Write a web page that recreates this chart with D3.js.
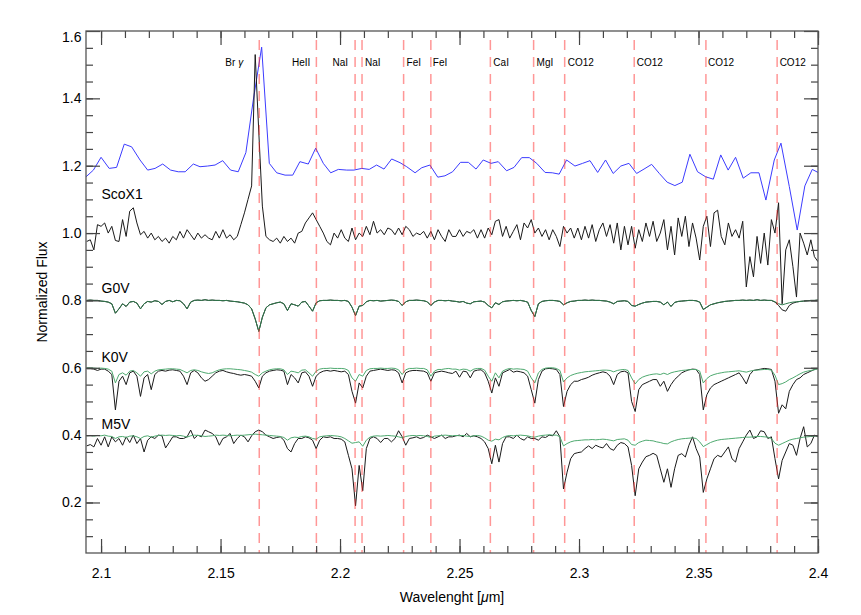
<!DOCTYPE html>
<html>
<head>
<meta charset="utf-8">
<script src="https://cdn.jsdelivr.net/npm/d3@7"></script>
<style>
  body { margin: 0; background: #fff; }
  text { font-family: "Liberation Sans", Arial, Helvetica, sans-serif; }
</style>
</head>
<body>
<div id="spec_chart"></div>
<script>

// spectra are sampled on a regular wavelength grid (micron)
var waveStart = 2.094;
var waveStep = 0.0015;

// low resolution ScoX1 spectrum (blue)
var blueWave = [2.0937, 2.0968, 2.1000, 2.1034, 2.1065, 2.1097, 2.1128, 2.1163, 2.1195, 2.1226,
  2.1258, 2.1291, 2.1323, 2.1352, 2.1386, 2.1414, 2.1446, 2.1477, 2.1509, 2.1542,
  2.1574, 2.1606, 2.1637, 2.1672, 2.1704, 2.1735, 2.1770, 2.1802, 2.1832, 2.1867,
  2.1898, 2.1930, 2.1961, 2.1993, 2.2028, 2.2058, 2.2091, 2.2122, 2.2153, 2.2184,
  2.2216, 2.2251, 2.2279, 2.2314, 2.2342, 2.2376, 2.2409, 2.2439, 2.2471, 2.2504,
  2.2537, 2.2569, 2.2599, 2.2632, 2.2662, 2.2697, 2.2728, 2.2760, 2.2792, 2.2823,
  2.2858, 2.2888, 2.2917, 2.2948, 2.2983, 2.3015, 2.3046, 2.3078, 2.3111, 2.3143,
  2.3175, 2.3209, 2.3241, 2.3272, 2.3304, 2.3336, 2.3369, 2.3401, 2.3432, 2.3464,
  2.3496, 2.3530, 2.3562, 2.3593, 2.3624, 2.3655, 2.3687, 2.3719, 2.3753, 2.3782,
  2.3817, 2.3845, 2.3880, 2.3913, 2.3945, 2.3976, 2.4000];
var blueFlux = [1.167, 1.187, 1.225, 1.192, 1.195, 1.264, 1.256, 1.217, 1.187, 1.192,
  1.205, 1.187, 1.182, 1.182, 1.205, 1.197, 1.199, 1.202, 1.215, 1.187,
  1.182, 1.239, 1.395, 1.552, 1.207, 1.179, 1.172, 1.172, 1.212, 1.205,
  1.252, 1.207, 1.179, 1.189, 1.187, 1.187, 1.192, 1.189, 1.202, 1.190,
  1.220, 1.209, 1.197, 1.179, 1.194, 1.202, 1.166, 1.170, 1.182, 1.210,
  1.210, 1.190, 1.217, 1.207, 1.212, 1.185, 1.195, 1.224, 1.224, 1.207,
  1.180, 1.179, 1.175, 1.217, 1.199, 1.207, 1.215, 1.180, 1.217, 1.177,
  1.199, 1.207, 1.177, 1.190, 1.204, 1.177, 1.151, 1.141, 1.151, 1.234,
  1.182, 1.167, 1.160, 1.232, 1.187, 1.225, 1.163, 1.179, 1.179, 1.098,
  1.217, 1.267, 1.138, 1.009, 1.140, 1.189, 1.180];

var scoFlux = [0.975, 0.98, 0.95, 1.025, 1.02, 1.03, 1.0, 1.02, 0.978, 0.975,
  1.04, 0.99, 1.065, 1.075, 1.03, 0.995, 1.005, 0.985, 1.0, 0.98,
  0.99, 0.975, 0.985, 0.97, 0.99, 0.98, 1.005, 0.985, 1.01, 0.995,
  0.98, 1.0, 0.985, 0.995, 0.985, 0.98, 1.005, 0.985, 1.01, 0.985,
  0.995, 0.98, 0.99, 1.025, 1.06, 1.10, 1.14, 1.53, 1.30, 1.08,
  0.99, 0.98, 0.975, 0.985, 0.97, 0.99, 0.975, 0.985, 0.97, 1.0,
  1.005, 1.03, 1.045, 1.06, 1.04, 1.02, 1.0, 0.975, 0.965, 1.0,
  0.985, 1.01, 0.985, 0.975, 1.015, 0.98, 1.0, 0.99, 1.02, 0.995,
  1.035, 1.0, 1.01, 0.995, 1.015, 1.01, 0.995, 1.015, 0.995, 1.02,
  1.01, 0.99, 1.0, 0.995, 1.005, 0.985, 1.005, 0.98, 1.01, 0.99,
  0.975, 1.01, 0.99, 0.99, 1.01, 0.99, 1.005, 1.0, 1.01, 0.985,
  1.01, 0.985, 1.015, 0.995, 1.035, 1.04, 0.99, 1.02, 0.985, 1.005,
  1.025, 0.98, 1.03, 1.015, 1.04, 1.0, 1.015, 0.99, 1.01, 0.98,
  1.01, 0.99, 0.96, 1.02, 1.0, 1.015, 0.985, 1.015, 0.98, 1.02,
  0.985, 1.025, 0.975, 1.01, 1.03, 0.99, 1.025, 0.97, 1.03, 0.95,
  1.02, 0.965, 1.02, 0.955, 1.01, 0.975, 1.03, 0.99, 1.035, 0.975,
  1.0, 1.04, 0.95, 1.02, 0.935, 1.045, 0.99, 1.05, 0.96, 1.03,
  0.985, 0.92, 1.02, 1.05, 0.96, 1.06, 1.068, 0.99, 0.965, 1.03,
  0.99, 1.01, 0.985, 1.035, 0.84, 0.93, 0.87, 0.99, 0.91, 1.0,
  0.905, 1.04, 1.0, 1.09, 0.79, 0.95, 0.98, 0.9, 0.81, 1.0,
  0.97, 0.935, 0.98, 0.93, 0.915];

var g0vFlux = [0.800, 0.801, 0.800, 0.800, 0.798, 0.797, 0.795, 0.790, 0.762, 0.775,
  0.790, 0.782, 0.795, 0.797, 0.792, 0.775, 0.790, 0.797, 0.795, 0.799,
  0.797, 0.788, 0.797, 0.800, 0.796, 0.800, 0.799, 0.790, 0.775, 0.795,
  0.800, 0.801, 0.800, 0.802, 0.800, 0.801, 0.800, 0.800, 0.799, 0.800,
  0.798, 0.797, 0.796, 0.794, 0.792, 0.787, 0.775, 0.745, 0.708, 0.750,
  0.778, 0.787, 0.790, 0.793, 0.795, 0.790, 0.770, 0.790, 0.787, 0.783,
  0.795, 0.797, 0.783, 0.768, 0.793, 0.799, 0.800, 0.800, 0.801, 0.800,
  0.800, 0.799, 0.800, 0.797, 0.780, 0.755, 0.783, 0.785, 0.796, 0.800,
  0.799, 0.800, 0.798, 0.799, 0.800, 0.801, 0.800, 0.797, 0.785, 0.796,
  0.800, 0.800, 0.801, 0.800, 0.799, 0.796, 0.785, 0.795, 0.800, 0.800,
  0.799, 0.800, 0.798, 0.797, 0.795, 0.797, 0.792, 0.790, 0.796, 0.797,
  0.798, 0.795, 0.785, 0.778, 0.793, 0.788, 0.796, 0.798, 0.799, 0.800,
  0.799, 0.800, 0.798, 0.795, 0.770, 0.752, 0.790, 0.797, 0.799, 0.800,
  0.800, 0.799, 0.797, 0.787, 0.793, 0.797, 0.798, 0.800, 0.800, 0.801,
  0.800, 0.801, 0.800, 0.800, 0.799, 0.798, 0.795, 0.790, 0.797, 0.798,
  0.799, 0.797, 0.785, 0.783, 0.788, 0.792, 0.795, 0.796, 0.797, 0.797,
  0.795, 0.787, 0.795, 0.782, 0.794, 0.797, 0.798, 0.799, 0.800, 0.800,
  0.799, 0.795, 0.773, 0.780, 0.787, 0.790, 0.793, 0.795, 0.797, 0.798,
  0.799, 0.800, 0.800, 0.801, 0.800, 0.801, 0.800, 0.802, 0.800, 0.801,
  0.800, 0.800, 0.795, 0.785, 0.772, 0.768, 0.785, 0.792, 0.795, 0.797,
  0.798, 0.799, 0.800, 0.800, 0.801];

var g0vModel = [0.800, 0.801, 0.800, 0.800, 0.798, 0.797, 0.795, 0.790, 0.762, 0.775,
  0.790, 0.782, 0.795, 0.797, 0.792, 0.775, 0.790, 0.797, 0.795, 0.799,
  0.797, 0.788, 0.797, 0.800, 0.796, 0.800, 0.799, 0.790, 0.775, 0.795,
  0.800, 0.801, 0.800, 0.802, 0.800, 0.801, 0.800, 0.800, 0.799, 0.800,
  0.798, 0.797, 0.796, 0.794, 0.792, 0.787, 0.775, 0.745, 0.708, 0.750,
  0.778, 0.787, 0.790, 0.793, 0.795, 0.790, 0.770, 0.790, 0.787, 0.783,
  0.795, 0.797, 0.783, 0.768, 0.793, 0.799, 0.800, 0.800, 0.801, 0.800,
  0.800, 0.799, 0.800, 0.797, 0.780, 0.755, 0.783, 0.785, 0.796, 0.800,
  0.799, 0.800, 0.798, 0.799, 0.800, 0.801, 0.800, 0.797, 0.785, 0.796,
  0.800, 0.800, 0.801, 0.800, 0.799, 0.796, 0.785, 0.795, 0.800, 0.800,
  0.799, 0.800, 0.798, 0.797, 0.795, 0.797, 0.792, 0.790, 0.796, 0.797,
  0.798, 0.795, 0.785, 0.778, 0.793, 0.788, 0.796, 0.798, 0.799, 0.800,
  0.799, 0.800, 0.798, 0.795, 0.770, 0.752, 0.790, 0.797, 0.799, 0.800,
  0.800, 0.799, 0.797, 0.787, 0.793, 0.797, 0.798, 0.800, 0.800, 0.801,
  0.800, 0.801, 0.800, 0.800, 0.799, 0.798, 0.795, 0.790, 0.797, 0.798,
  0.799, 0.797, 0.785, 0.783, 0.788, 0.792, 0.795, 0.796, 0.797, 0.797,
  0.795, 0.787, 0.795, 0.782, 0.794, 0.797, 0.798, 0.799, 0.800, 0.800,
  0.799, 0.795, 0.773, 0.780, 0.787, 0.790, 0.793, 0.795, 0.797, 0.798,
  0.799, 0.800, 0.800, 0.801, 0.800, 0.801, 0.800, 0.802, 0.800, 0.801,
  0.800, 0.800, 0.796, 0.790, 0.787, 0.790, 0.793, 0.795, 0.796, 0.797,
  0.798, 0.799, 0.800, 0.800, 0.801];

var k0vFlux = [0.597, 0.597, 0.596, 0.592, 0.596, 0.596, 0.590, 0.580, 0.475, 0.560,
  0.575, 0.550, 0.585, 0.590, 0.575, 0.515, 0.570, 0.580, 0.535, 0.580,
  0.590, 0.592, 0.590, 0.593, 0.594, 0.592, 0.590, 0.575, 0.550, 0.585,
  0.592, 0.585, 0.570, 0.560, 0.565, 0.575, 0.585, 0.590, 0.592, 0.588,
  0.585, 0.583, 0.580, 0.578, 0.580, 0.578, 0.575, 0.560, 0.540, 0.575,
  0.585, 0.590, 0.592, 0.594, 0.593, 0.590, 0.550, 0.580, 0.570, 0.555,
  0.585, 0.588, 0.575, 0.545, 0.575, 0.585, 0.590, 0.592, 0.590, 0.592,
  0.590, 0.588, 0.590, 0.580, 0.530, 0.495, 0.555, 0.540, 0.575, 0.590,
  0.592, 0.594, 0.596, 0.594, 0.592, 0.594, 0.593, 0.585, 0.555, 0.585,
  0.590, 0.592, 0.592, 0.591, 0.590, 0.585, 0.560, 0.585, 0.588, 0.590,
  0.588, 0.585, 0.583, 0.590, 0.572, 0.590, 0.588, 0.570, 0.590, 0.593,
  0.594, 0.585, 0.560, 0.525, 0.570, 0.545, 0.585, 0.590, 0.595, 0.587,
  0.590, 0.588, 0.585, 0.575, 0.535, 0.495, 0.565, 0.590, 0.597, 0.598,
  0.597, 0.595, 0.580, 0.485, 0.530, 0.550, 0.560, 0.560, 0.565, 0.568,
  0.572, 0.578, 0.582, 0.585, 0.588, 0.585, 0.575, 0.550, 0.580, 0.588,
  0.590, 0.585, 0.500, 0.470, 0.535, 0.550, 0.555, 0.560, 0.565, 0.565,
  0.545, 0.560, 0.530, 0.550, 0.565, 0.575, 0.585, 0.590, 0.594, 0.596,
  0.595, 0.580, 0.475, 0.520, 0.540, 0.550, 0.555, 0.560, 0.565, 0.570,
  0.575, 0.580, 0.585, 0.570, 0.552, 0.580, 0.592, 0.594, 0.596, 0.598,
  0.597, 0.595, 0.560, 0.465, 0.490, 0.478, 0.530, 0.550, 0.565, 0.570,
  0.580, 0.585, 0.590, 0.595, 0.598];

var k0vModel = [0.600, 0.600, 0.599, 0.598, 0.599, 0.598, 0.596, 0.590, 0.555, 0.580,
  0.585, 0.578, 0.590, 0.592, 0.585, 0.575, 0.588, 0.590, 0.582, 0.590,
  0.594, 0.595, 0.596, 0.597, 0.597, 0.596, 0.595, 0.590, 0.585, 0.592,
  0.594, 0.592, 0.588, 0.585, 0.583, 0.585, 0.590, 0.594, 0.596, 0.597,
  0.597, 0.596, 0.595, 0.594, 0.592, 0.590, 0.587, 0.580, 0.575, 0.585,
  0.590, 0.594, 0.596, 0.597, 0.597, 0.594, 0.580, 0.590, 0.588, 0.585,
  0.593, 0.594, 0.585, 0.575, 0.590, 0.596, 0.598, 0.598, 0.599, 0.598,
  0.598, 0.598, 0.597, 0.592, 0.570, 0.560, 0.580, 0.575, 0.592, 0.597,
  0.598, 0.598, 0.599, 0.598, 0.598, 0.599, 0.598, 0.594, 0.580, 0.594,
  0.598, 0.598, 0.599, 0.598, 0.598, 0.594, 0.575, 0.590, 0.595, 0.595,
  0.597, 0.598, 0.596, 0.596, 0.593, 0.596, 0.595, 0.590, 0.596, 0.598,
  0.598, 0.593, 0.575, 0.560, 0.585, 0.570, 0.590, 0.595, 0.598, 0.596,
  0.597, 0.596, 0.595, 0.590, 0.570, 0.555, 0.585, 0.595, 0.599, 0.600,
  0.600, 0.598, 0.592, 0.558, 0.570, 0.577, 0.581, 0.584, 0.586, 0.588,
  0.589, 0.590, 0.591, 0.592, 0.593, 0.593, 0.592, 0.588, 0.592, 0.594,
  0.595, 0.592, 0.570, 0.552, 0.565, 0.572, 0.576, 0.579, 0.581, 0.582,
  0.580, 0.584, 0.580, 0.585, 0.588, 0.590, 0.592, 0.593, 0.594, 0.595,
  0.595, 0.590, 0.555, 0.568, 0.576, 0.580, 0.583, 0.585, 0.587, 0.588,
  0.589, 0.590, 0.591, 0.589, 0.587, 0.590, 0.592, 0.593, 0.594, 0.595,
  0.595, 0.593, 0.578, 0.550, 0.553, 0.558, 0.565, 0.570, 0.576, 0.582,
  0.587, 0.590, 0.592, 0.594, 0.597];

var m5vFlux = [0.368, 0.372, 0.365, 0.390, 0.370, 0.395, 0.365, 0.395, 0.380, 0.390,
  0.370, 0.395, 0.378, 0.400, 0.375, 0.390, 0.350, 0.385, 0.395, 0.390,
  0.400, 0.398, 0.362, 0.378, 0.395, 0.395, 0.390, 0.390, 0.395, 0.415,
  0.390, 0.400, 0.395, 0.415, 0.410, 0.405, 0.395, 0.370, 0.390, 0.395,
  0.405, 0.375, 0.390, 0.400, 0.395, 0.380, 0.398, 0.410, 0.415, 0.410,
  0.400, 0.395, 0.390, 0.393, 0.395, 0.385, 0.360, 0.350, 0.375, 0.390,
  0.390, 0.395, 0.392, 0.385, 0.360, 0.385, 0.395, 0.393, 0.395, 0.390,
  0.390, 0.388, 0.380, 0.340, 0.300, 0.190, 0.310, 0.235, 0.360, 0.390,
  0.395, 0.390, 0.378, 0.390, 0.390, 0.380, 0.390, 0.413, 0.395, 0.370,
  0.390, 0.392, 0.395, 0.390, 0.393, 0.400, 0.395, 0.390, 0.395, 0.400,
  0.390, 0.395, 0.395, 0.398, 0.400, 0.395, 0.405, 0.395, 0.398, 0.395,
  0.390, 0.380, 0.360, 0.315, 0.370, 0.320, 0.375, 0.395, 0.395, 0.390,
  0.400, 0.390, 0.385, 0.395, 0.390, 0.390, 0.385, 0.395, 0.393, 0.400,
  0.398, 0.413, 0.395, 0.240, 0.290, 0.330, 0.345, 0.348, 0.350, 0.360,
  0.368, 0.360, 0.370, 0.365, 0.362, 0.375, 0.360, 0.355, 0.370, 0.378,
  0.375, 0.365, 0.310, 0.220, 0.300, 0.320, 0.336, 0.340, 0.346, 0.340,
  0.300, 0.260, 0.300, 0.245, 0.300, 0.340, 0.345, 0.335, 0.370, 0.395,
  0.360, 0.335, 0.230, 0.270, 0.300, 0.330, 0.340, 0.335, 0.350, 0.365,
  0.330, 0.320, 0.360, 0.380, 0.400, 0.415, 0.390, 0.395, 0.413, 0.410,
  0.390, 0.395, 0.330, 0.270, 0.325, 0.350, 0.375, 0.370, 0.340, 0.390,
  0.425, 0.365, 0.375, 0.400, 0.395];

var m5vModel = [0.398, 0.399, 0.397, 0.399, 0.398, 0.400, 0.397, 0.396, 0.390, 0.395,
  0.396, 0.393, 0.397, 0.398, 0.395, 0.390, 0.396, 0.398, 0.394, 0.397,
  0.399, 0.400, 0.399, 0.400, 0.399, 0.398, 0.399, 0.397, 0.394, 0.398,
  0.400, 0.399, 0.398, 0.396, 0.397, 0.398, 0.400, 0.399, 0.400, 0.399,
  0.398, 0.399, 0.400, 0.399, 0.400, 0.401, 0.402, 0.403, 0.402, 0.401,
  0.400, 0.399, 0.398, 0.397, 0.396, 0.393, 0.385, 0.392, 0.394, 0.393,
  0.396, 0.397, 0.395, 0.390, 0.388, 0.395, 0.397, 0.398, 0.399, 0.398,
  0.397, 0.395, 0.390, 0.383, 0.376, 0.378, 0.380, 0.367, 0.385, 0.394,
  0.397, 0.398, 0.397, 0.398, 0.399, 0.398, 0.397, 0.395, 0.392, 0.396,
  0.398, 0.399, 0.398, 0.399, 0.398, 0.396, 0.393, 0.397, 0.398, 0.399,
  0.400, 0.399, 0.398, 0.399, 0.398, 0.399, 0.397, 0.396, 0.398, 0.399,
  0.397, 0.392, 0.385, 0.382, 0.388, 0.386, 0.393, 0.397, 0.399, 0.398,
  0.399, 0.400, 0.399, 0.398, 0.395, 0.394, 0.397, 0.399, 0.400, 0.401,
  0.400, 0.400, 0.395, 0.368, 0.375, 0.380, 0.383, 0.384, 0.385, 0.386,
  0.386, 0.387, 0.386, 0.387, 0.388, 0.387, 0.385, 0.383, 0.387, 0.388,
  0.389, 0.385, 0.372, 0.370, 0.378, 0.382, 0.385, 0.384, 0.383, 0.380,
  0.378, 0.375, 0.374, 0.380, 0.384, 0.387, 0.389, 0.390, 0.391, 0.392,
  0.390, 0.380, 0.366, 0.372, 0.378, 0.382, 0.385, 0.387, 0.388, 0.389,
  0.390, 0.391, 0.392, 0.393, 0.394, 0.394, 0.395, 0.396, 0.396, 0.395,
  0.394, 0.390, 0.376, 0.370, 0.375, 0.380, 0.385, 0.388, 0.390, 0.392,
  0.394, 0.395, 0.396, 0.397, 0.398];

// spectral lines marked with dashed lines
var lineNames = ['Br', 'HeII', 'NaI', 'NaI', 'FeI', 'FeI', 'CaI', 'MgI', 'CO12', 'CO12', 'CO12', 'CO12'];
var lineWaves = [2.1662, 2.1901, 2.2063, 2.2092, 2.2266, 2.2380, 2.2629, 2.2810, 2.2940, 2.3231, 2.3531, 2.3829];

var starNames = ['ScoX1', 'G0V', 'K0V', 'M5V'];

var xMajor = [2.1, 2.15, 2.2, 2.25, 2.3, 2.35, 2.4];
var xMinor = [2.1, 2.11, 2.12, 2.13, 2.14, 2.15, 2.16, 2.17, 2.18, 2.19, 2.2, 2.21, 2.22, 2.23, 2.24,
  2.25, 2.26, 2.27, 2.28, 2.29, 2.3, 2.31, 2.32, 2.33, 2.34, 2.35, 2.36, 2.37, 2.38, 2.39, 2.4];
var yMajor = [0.2, 0.4, 0.6, 0.8, 1.0, 1.2, 1.4, 1.6];
var yMinor = [0.1, 0.15, 0.2, 0.25, 0.3, 0.35, 0.4, 0.45, 0.5, 0.55, 0.6, 0.65, 0.7, 0.75, 0.8, 0.85,
  0.9, 0.95, 1.0, 1.05, 1.1, 1.15, 1.2, 1.25, 1.3, 1.35, 1.4, 1.45, 1.5, 1.55];

// ---- layout ----
var width = 861;
var height = 615;
var plotLeft = 86, plotRight = 818, plotTop = 31, plotBottom = 553;

// label layout (not data)
var lineLabelDx = [-16, -6, -7, 3, 3, 2, 3, 3, 3, 2.5, 2, 2.5];
var starLabelFlux = [1.101, 0.821, 0.618, 0.419];

var svg = d3.select('#spec_chart').append('svg')
  .attr('width', width)
  .attr('height', height);

var xScale = d3.scaleLinear().domain([2.0937, 2.4]).range([plotLeft, plotRight]);
var yScale = d3.scaleLinear().domain([0.05, 1.6]).range([plotBottom, plotTop]);

svg.append('clipPath').attr('id', 'plotclip')
  .append('rect')
  .attr('x', plotLeft).attr('y', plotTop)
  .attr('width', plotRight - plotLeft).attr('height', plotBottom - plotTop);

var plot = svg.append('g').attr('clip-path', 'url(#plotclip)');

var gridLine = d3.line()
  .x(function(d, i) { return xScale(waveStart + i * waveStep); })
  .y(function(d) { return yScale(d); });

// blue low resolution spectrum
plot.append('path')
  .datum(d3.zip(blueWave, blueFlux))
  .attr('d', d3.line()
    .x(function(d) { return xScale(d[0]); })
    .y(function(d) { return yScale(d[1]); }))
  .style('fill', 'none')
  .style('stroke', '#3c3cff')
  .style('stroke-width', 1);

// observed / template spectra (black) and models (green)
var blackSeries = [scoFlux, g0vFlux, k0vFlux, m5vFlux];
var greenSeries = [g0vModel, k0vModel, m5vModel];

plot.selectAll('.spec')
  .data(blackSeries)
  .enter()
  .append('path')
  .attr('class', 'spec')
  .attr('d', gridLine)
  .style('fill', 'none')
  .style('stroke', '#1a1a1a')
  .style('stroke-width', 1);

plot.selectAll('.model')
  .data(greenSeries)
  .enter()
  .append('path')
  .attr('class', 'model')
  .attr('d', gridLine)
  .style('fill', 'none')
  .style('stroke', function(d, i) { return i === 0 ? '#2f7a4c' : '#4faa70'; })
  .style('stroke-width', 1);

// dashed line markers
plot.selectAll('.marker')
  .data(lineWaves)
  .enter()
  .append('line')
  .attr('class', 'marker')
  .attr('x1', function(d) { return xScale(d); })
  .attr('x2', function(d) { return xScale(d); })
  .attr('y1', plotTop + 9)
  .attr('y2', plotBottom)
  .style('stroke', '#ff3030')
  .style('stroke-opacity', 0.5)
  .style('stroke-width', 1.5)
  .style('stroke-dasharray', '10,7');

var lineLabels = svg.selectAll('.linelabel')
  .data(lineNames)
  .enter()
  .append('text')
  .attr('class', 'linelabel')
  .attr('x', function(d, i) { return xScale(lineWaves[i]) + lineLabelDx[i]; })
  .attr('y', 65.5)
  .attr('text-anchor', function(d, i) { return lineLabelDx[i] < 0 ? 'end' : 'start'; })
  .style('font-size', '10px')
  .style('fill', '#000')
  .text(function(d) { return d; });

// Br gamma gets an italic greek letter
lineLabels.filter(function(d, i) { return i === 0; })
  .append('tspan')
  .attr('dx', 3)
  .style('font-style', 'italic')
  .text('\u03b3');

// star names
svg.selectAll('.starlabel')
  .data(starNames)
  .enter()
  .append('text')
  .attr('class', 'starlabel')
  .attr('x', 101.5)
  .attr('y', function(d, i) { return yScale(starLabelFlux[i]); })
  .style('font-size', '14px')
  .style('fill', '#000')
  .text(function(d) { return d; });

// ---- axes ----
var fmtX = function(d) { return String(+d.toFixed(2)); };
var fmtY = d3.format('.1f');

function styleAxis(g) {
  g.select('.domain').remove();
  g.selectAll('line').style('stroke', '#444').style('stroke-width', 1.2);
  g.selectAll('text').style('font-size', '14px').style('fill', '#000')
    .style('font-family', '"Liberation Sans", Arial, Helvetica, sans-serif');
}

svg.append('g')
  .attr('transform', 'translate(0,' + plotBottom + ')')
  .call(d3.axisBottom(xScale).tickValues(xMinor).tickSize(-7).tickFormat(''))
  .call(styleAxis);
svg.append('g')
  .attr('transform', 'translate(0,' + plotBottom + ')')
  .call(d3.axisBottom(xScale).tickValues(xMajor).tickSizeInner(-14).tickSizeOuter(0)
    .tickPadding(15).tickFormat(fmtX))
  .call(styleAxis);

svg.append('g')
  .attr('transform', 'translate(0,' + plotTop + ')')
  .call(d3.axisTop(xScale).tickValues(xMinor).tickSize(-7).tickFormat(''))
  .call(styleAxis);
svg.append('g')
  .attr('transform', 'translate(0,' + plotTop + ')')
  .call(d3.axisTop(xScale).tickValues(xMajor).tickSize(-14).tickFormat(''))
  .call(styleAxis);

svg.append('g')
  .attr('transform', 'translate(' + plotLeft + ',0)')
  .call(d3.axisLeft(yScale).tickValues(yMinor).tickSize(-7).tickFormat(''))
  .call(styleAxis);
var yAxisG = svg.append('g')
  .attr('transform', 'translate(' + plotLeft + ',0)')
  .call(d3.axisLeft(yScale).tickValues(yMajor).tickSizeInner(-14).tickSizeOuter(0)
    .tickPadding(4.5).tickFormat(fmtY))
  .call(styleAxis);
// top label sits a little below its tick
yAxisG.selectAll('text').attr('y', function(d) { return d === 1.6 ? 6.5 : 0; });

svg.append('g')
  .attr('transform', 'translate(' + plotRight + ',0)')
  .call(d3.axisRight(yScale).tickValues(yMinor).tickSize(-7).tickFormat(''))
  .call(styleAxis);
svg.append('g')
  .attr('transform', 'translate(' + plotRight + ',0)')
  .call(d3.axisRight(yScale).tickValues(yMajor).tickSize(-14).tickFormat(''))
  .call(styleAxis);

// frame
svg.append('rect')
  .attr('x', plotLeft).attr('y', plotTop)
  .attr('width', plotRight - plotLeft).attr('height', plotBottom - plotTop)
  .style('fill', 'none')
  .style('stroke', '#555')
  .style('stroke-width', 1.3);

// axis titles
var xTitle = svg.append('text')
  .attr('x', (plotLeft + plotRight) / 2)
  .attr('y', 602)
  .attr('text-anchor', 'middle')
  .style('font-size', '14px')
  .text('Wavelenght [');
xTitle.append('tspan').style('font-style', 'italic').text('\u03bc');
xTitle.append('tspan').text('m]');

svg.append('text')
  .attr('transform', 'translate(47,' + ((plotTop + plotBottom) / 2) + ') rotate(-90)')
  .attr('text-anchor', 'middle')
  .style('font-size', '14px')
  .text('Normalized Flux');

</script>
</body>
</html>
